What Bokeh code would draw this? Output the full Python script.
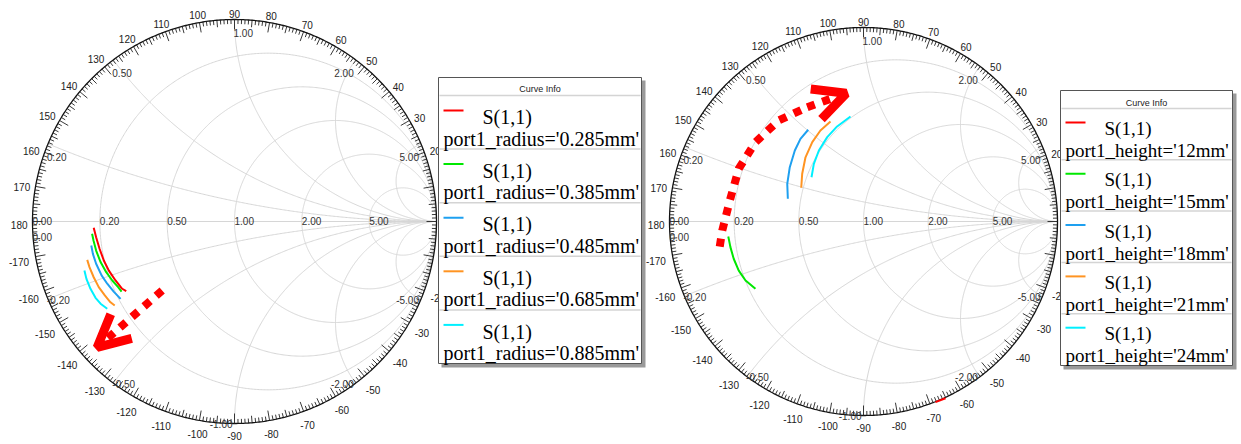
import numpy as np
from bokeh.plotting import figure
from bokeh.models import Range1d, Arrow, OpenHead
from bokeh.core.properties import value
from bokeh.embed import file_html
from bokeh.resources import INLINE

# ---------------- data ----------------
resistance_values = [0.2, 0.5, 1.0, 2.0, 5.0]
reactance_values = [0.2, 0.5, 1.0, 2.0, 5.0]
grid_labels = ["0.20", "0.50", "1.00", "2.00", "5.00"]
neg_grid_labels = ["-0.20", "-0.50", "-1.00", "-2.00", "-5.00"]
angle_label_values = [a for a in range(180, -180, -10) if a not in (10, 0, -10)]

series_colors = ["#ff0000", "#00e800", "#1ea0f0", "#ff9422", "#00f0ff"]

# left chart: port1_radius sweep (reflection coefficient, re / im)
left_names = ["0.285mm", "0.385mm", "0.485mm", "0.685mm", "0.885mm"]
left_285_re = [-0.697, -0.685, -0.668, -0.647, -0.622, -0.589, -0.556, -0.536]
left_285_im = [-0.031, -0.078, -0.135, -0.193, -0.243, -0.292, -0.333, -0.345]
left_385_re = [-0.705, -0.698, -0.685, -0.663, -0.635, -0.605, -0.576, -0.559]
left_385_im = [-0.061, -0.094, -0.144, -0.201, -0.251, -0.292, -0.325, -0.347]
left_485_re = [-0.709, -0.701, -0.685, -0.658, -0.630, -0.598, -0.564]
left_485_im = [-0.119, -0.160, -0.209, -0.267, -0.308, -0.347, -0.383]
left_685_re = [-0.729, -0.718, -0.697, -0.672, -0.642, -0.614, -0.593]
left_685_im = [-0.190, -0.226, -0.276, -0.325, -0.366, -0.400, -0.416]
left_885_re = [-0.743, -0.733, -0.713, -0.688, -0.663, -0.630]
left_885_im = [-0.243, -0.284, -0.333, -0.378, -0.407, -0.432]

# right chart: port1_height sweep
right_names = ["12mm", "15mm", "18mm", "21mm", "24mm"]
right_12_re = [0.371, 0.423]
right_12_im = [-0.931, -0.911]
right_15_re = [-0.697, -0.686, -0.669, -0.643, -0.608, -0.557]
right_15_im = [-0.077, -0.132, -0.192, -0.253, -0.304, -0.347]
right_18_re = [-0.390, -0.393, -0.380, -0.354, -0.325, -0.285]
right_18_im = [0.117, 0.194, 0.280, 0.366, 0.426, 0.473]
right_21_re = [-0.321, -0.316, -0.299, -0.264, -0.222, -0.170]
right_21_im = [0.174, 0.246, 0.331, 0.409, 0.469, 0.515]
right_24_re = [-0.268, -0.256, -0.230, -0.187, -0.136, -0.067]
right_24_im = [0.228, 0.297, 0.366, 0.435, 0.490, 0.541]

# trend arrows (reflection-coefficient coordinates)
left_arrow_re = [-0.358, -0.680]
left_arrow_im = [-0.342, -0.623]
right_arrow_re = [-0.741, -0.728, -0.689, -0.643, -0.557, -0.437, -0.290, -0.089]
right_arrow_im = [-0.129, -0.046, 0.108, 0.272, 0.409, 0.521, 0.589, 0.661]

# ---------------- figure ----------------
W, H = 1241, 444
def sy(y):  # screen y -> data y
    return H - y

p = figure(width=W, height=H, x_range=Range1d(0, W), y_range=Range1d(0, H),
           output_backend="svg", toolbar_location=None, min_border=0,
           x_axis_location=None, y_axis_location=None, outline_line_color=None,
           background_fill_color="white", border_fill_color="white")
p.grid.visible = False

SANS = value("Liberation Sans")
SERIF = value("Liberation Serif")
GRID = "#d6d6d6"
LABEL = "#333333"
DASH = "8 8"


def tw(s, fs=10.0):
    return sum(0.584 if ch == "-" else (0.278 if ch == "." else 0.556) for ch in s) * fs


def draw_smith(cx, cy, R, curves):
    t = np.linspace(0, 2 * np.pi, 721)
    for r in resistance_values:
        c, rad = r / (1 + r), 1 / (1 + r)
        p.line(cx + R * (c + rad * np.cos(t)), cy + R * rad * np.sin(t), line_color=GRID, line_width=1)
    p.segment(x0=[cx - R], y0=[cy], x1=[cx + R], y1=[cy], line_color=GRID, line_width=1)
    for x in reactance_values:
        pre, pim = (x * x - 1) / (x * x + 1), 2 * x / (x * x + 1)
        phi = np.arctan2(pim - 1 / x, pre - 1)
        if phi > -np.pi / 2:
            phi -= 2 * np.pi
        a = np.linspace(-np.pi / 2, phi, 300)
        gr = 1 + (1 / x) * np.cos(a)
        gi = 1 / x + (1 / x) * np.sin(a)
        for sgn in (1, -1):
            p.line(cx + R * gr, cy + sgn * R * gi, line_color=GRID, line_width=1)
    p.line(cx + R * np.cos(t), cy + R * np.sin(t), line_color="#111111", line_width=1.3)
    ang = np.arange(-180, 180, 1)
    ln = np.where(ang % 10 == 0, 10.0, np.where(ang % 5 == 0, 7.0, 4.5))
    th = np.deg2rad(ang)
    p.segment(x0=cx + R * np.cos(th), y0=cy + R * np.sin(th),
              x1=cx + (R - ln) * np.cos(th), y1=cy + (R - ln) * np.sin(th),
              line_color="#222222", line_width=0.9)
    lx, ly, lt = [], [], []
    for a in angle_label_values:
        s = str(a)
        tr = np.deg2rad(a)
        off = 5 + tw(s) / 2 * abs(np.cos(tr)) + 4 * abs(np.sin(tr))
        lx.append(cx + (R + off) * np.cos(tr))
        ly.append(cy + (R + off) * np.sin(tr) - 3)
        lt.append(s)
    p.text(x=lx, y=ly, text=lt, text_font=SANS, text_font_size="10px", text_color="#222222",
           text_align="center", text_baseline="middle")
    rx = [cx - R] + [cx + R * (r - 1) / (r + 1) for r in resistance_values]
    p.text(x=rx, y=[cy + 1] * len(rx), text=["0.00"] + grid_labels, text_font=SANS,
           text_font_size="10px", text_color=LABEL, text_align="left", text_baseline="alphabetic")
    p.text(x=[cx - R], y=[cy - 15], text=["0.00"], text_font=SANS, text_font_size="10px",
           text_color=LABEL, text_align="left", text_baseline="alphabetic")
    L = {"x": [], "y": [], "t": []}
    Rt = {"x": [], "y": [], "t": []}
    for x, lab, nlab in zip(reactance_values, grid_labels, neg_grid_labels):
        pre, pim = (x * x - 1) / (x * x + 1), 2 * x / (x * x + 1)
        px = cx + R * pre
        if x <= 1:
            L["x"].append(px - 1); L["y"].append(cy + R * pim - 13.5); L["t"].append(lab)
        else:
            Rt["x"].append(px - 2); Rt["y"].append(cy + R * pim - 13.5); Rt["t"].append(lab)
        if x < 1:
            L["x"].append(px - 1); L["y"].append(cy - R * pim - 0.5); L["t"].append(nlab)
        else:
            Rt["x"].append(px - 2); Rt["y"].append(cy - R * pim - 0.5); Rt["t"].append(nlab)
    p.text(x=L["x"], y=L["y"], text=L["t"], text_font=SANS, text_font_size="10px",
           text_color=LABEL, text_align="left", text_baseline="alphabetic")
    p.text(x=Rt["x"], y=Rt["y"], text=Rt["t"], text_font=SANS, text_font_size="10px",
           text_color=LABEL, text_align="right", text_baseline="alphabetic")
    for (re, im), col in zip(curves, series_colors):
        p.line(cx + R * np.array(re), cy + R * np.array(im), line_color=col, line_width=2)


def draw_legend(x0, x1, y0, y1, title_y, sep_y, row_h, o_line, o_s, o_t, fs, labels):
    p.quad(left=[x0 + 3], right=[x1 + 4], top=[sy(y0 + 3)], bottom=[sy(y1 + 4)],
           fill_color="#9a9a9a", line_color=None)
    p.quad(left=[x0], right=[x1], top=[sy(y0)], bottom=[sy(y1)],
           fill_color="white", line_color="#555555", line_width=1)
    p.text(x=[(x0 + x1) / 2], y=[sy(title_y)], text=["Curve Info"], text_font=SANS,
           text_font_size="9px", text_color="#222222", text_align="center", text_baseline="middle")
    seps = [sep_y + k * row_h for k in range(5)]
    p.segment(x0=[x0 + 1] * 5, x1=[x1 - 1] * 5, y0=[sy(s) for s in seps], y1=[sy(s) for s in seps],
              line_color="#d4d4d4", line_width=1.5)
    for k, (lab, col) in enumerate(zip(labels, series_colors)):
        top = sep_y + k * row_h
        p.segment(x0=[x0 + 5], x1=[x0 + 25], y0=[sy(top + o_line)], y1=[sy(top + o_line)],
                  line_color=col, line_width=2)
        p.text(x=[x0 + 44], y=[sy(top + o_s)], text=["S(1,1)"], text_font=SERIF,
               text_font_size=f"{fs}px", text_color="black", text_align="left", text_baseline="middle")
        p.text(x=[x0 + 5], y=[sy(top + o_t)], text=[lab], text_font=SERIF,
               text_font_size=f"{fs}px", text_color="black", text_align="left", text_baseline="middle")


lcx, lcy, lR = 234, sy(221), 202
draw_smith(lcx, lcy, lR,
           [(left_285_re, left_285_im), (left_385_re, left_385_im), (left_485_re, left_485_im),
            (left_685_re, left_685_im), (left_885_re, left_885_im)])
rcx, rcy, rR = 863, sy(221), 194
draw_smith(rcx, rcy, rR,
           [(right_12_re, right_12_im), (right_15_re, right_15_im), (right_18_re, right_18_im),
            (right_21_re, right_21_im), (right_24_re, right_24_im)])

RED = "#ff0000"
p.add_layout(Arrow(x_start=lcx + lR * left_arrow_re[0], y_start=lcy + lR * left_arrow_im[0],
                   x_end=lcx + lR * left_arrow_re[1], y_end=lcy + lR * left_arrow_im[1],
                   line_color=RED, line_width=8, line_dash=DASH,
                   end=OpenHead(line_color=RED, line_width=9, size=32)))
rax = rcx + rR * np.array(right_arrow_re)
ray = rcy + rR * np.array(right_arrow_im)
p.line(rax[:-1], ray[:-1], line_color=RED, line_width=8, line_dash=DASH)
p.add_layout(Arrow(x_start=rax[-2], y_start=ray[-2], x_end=rax[-1], y_end=ray[-1],
                   line_color=RED, line_width=8, line_dash=DASH,
                   end=OpenHead(line_color=RED, line_width=9, size=32)))

draw_legend(438, 641, 77, 363, 88, 95, 53.6, 15, 21.7, 43, 20,
            [f"port1_radius='{n}'" for n in left_names])
draw_legend(1060, 1232, 90, 365, 102, 108, 51.3, 14, 20, 42, 19,
            [f"port1_height='{n}'" for n in right_names])

open("out.html", "w").write(file_html(p, INLINE))
